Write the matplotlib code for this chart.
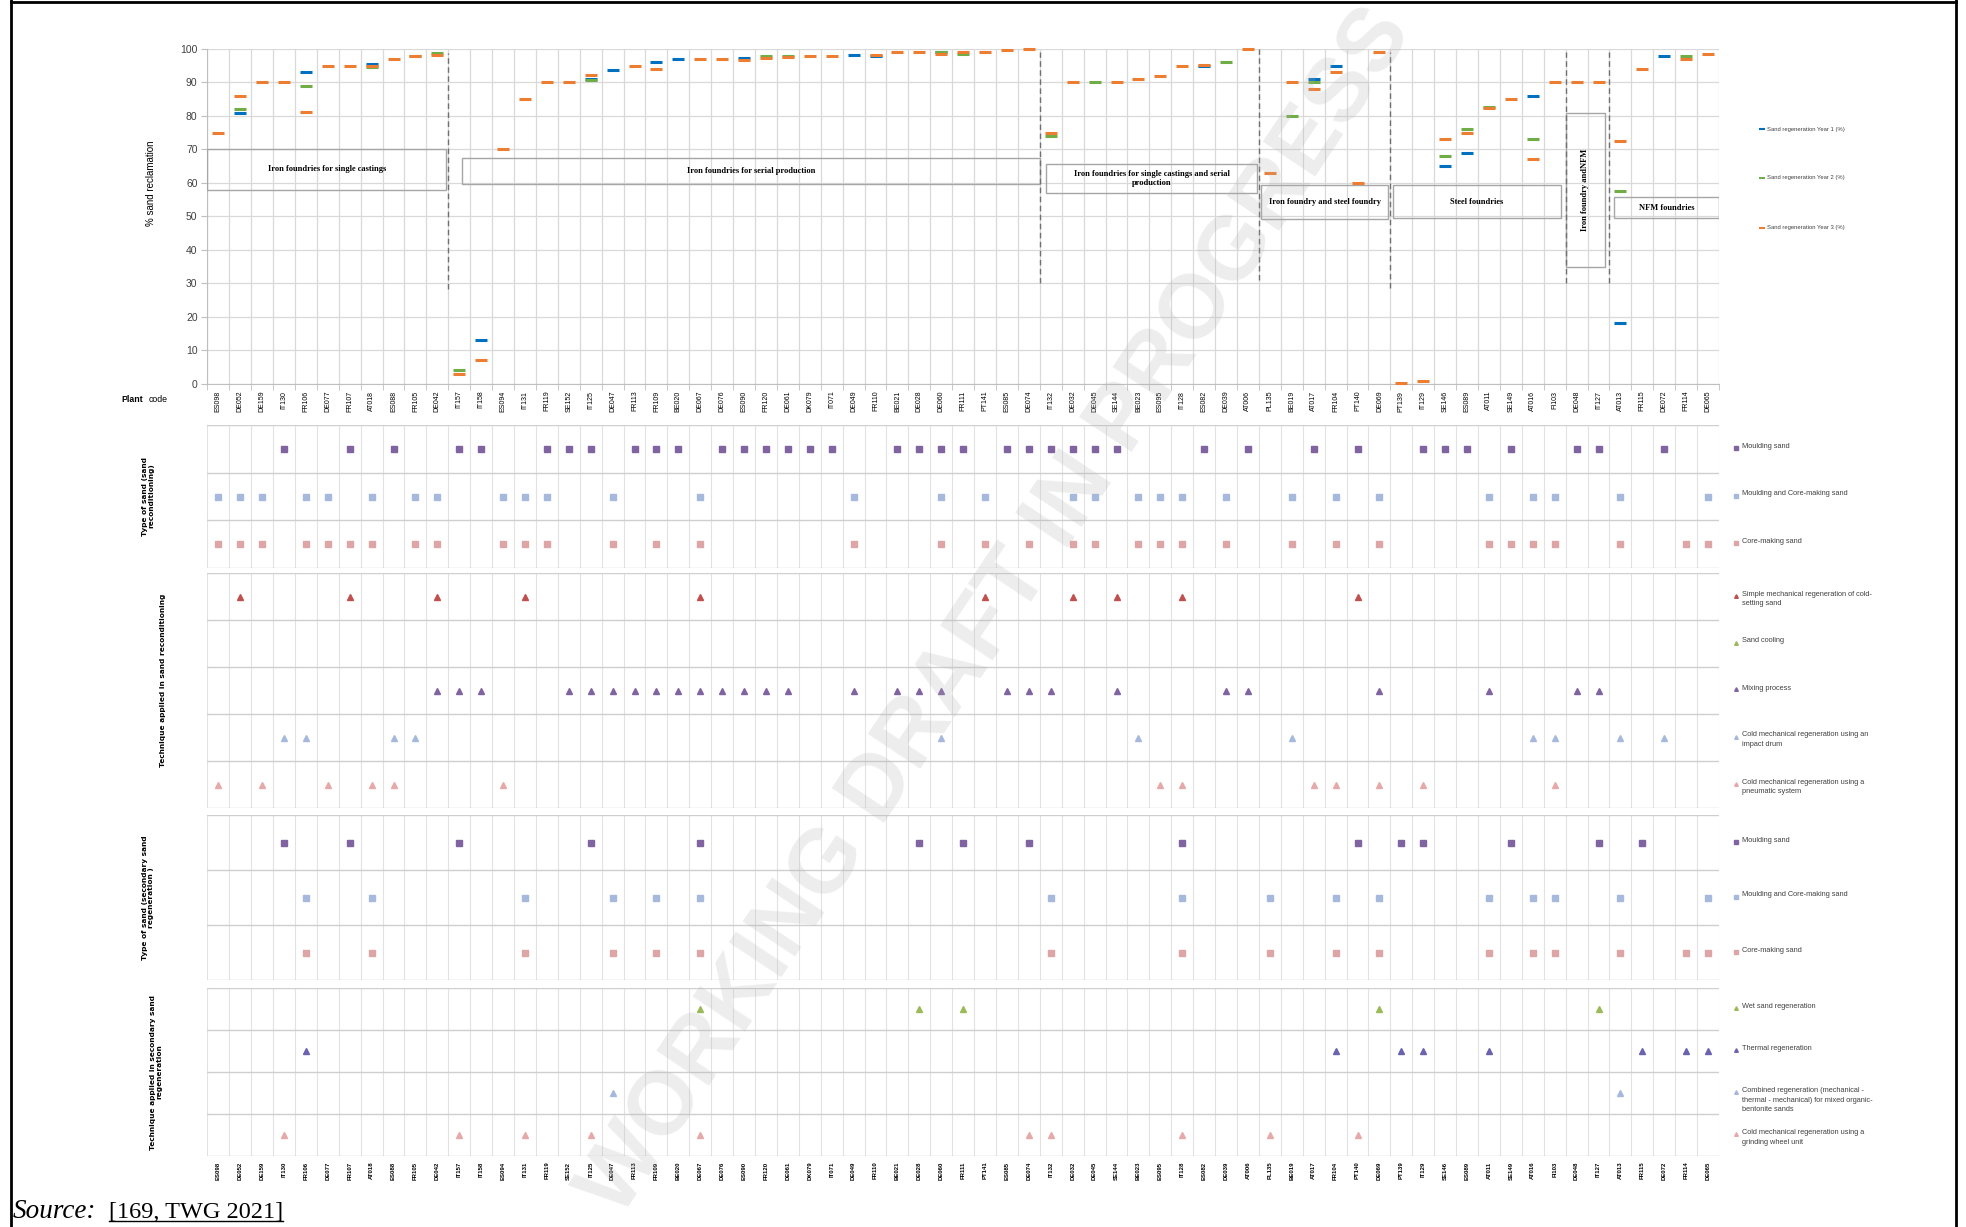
import numpy as np
import matplotlib
matplotlib.use('Agg')
import matplotlib.pyplot as plt
from matplotlib.lines import Line2D
from matplotlib.patches import Rectangle

nan = np.nan

plants = ['ES098', 'DE052', 'DE159', 'IT130', 'FR106', 'DE077', 'FR107', 'AT018', 'ES088', 'FR105',
          'DE042', 'IT157', 'IT158', 'ES094', 'IT131', 'FR119', 'SE152', 'IT125', 'DE047', 'FR113',
          'FR109', 'BE020', 'DE067', 'DE076', 'ES090', 'FR120', 'DE061', 'DK079', 'IT071', 'DE049',
          'FR110', 'BE021', 'DE028', 'DE060', 'FR111', 'PT141', 'ES085', 'DE074', 'IT132', 'DE032',
          'DE045', 'SE144', 'BE023', 'ES095', 'IT128', 'ES082', 'DE039', 'AT006', 'PL135', 'BE019',
          'AT017', 'FR104', 'PT140', 'DE069', 'PT139', 'IT129', 'SE146', 'ES089', 'AT011', 'SE149',
          'AT016', 'FI103', 'DE048', 'IT127', 'AT013', 'FR115', 'DE072', 'FR114', 'DE065']

# % sand reclamation
year1 = [nan, 81, nan, nan, 93, nan, nan, 95.5, nan, nan,
         nan, nan, 13, nan, nan, nan, nan, 91.1, 93.6, nan,
         96, 97, nan, nan, 97.3, nan, nan, nan, nan, 98.2,
         98, nan, nan, 99, nan, nan, nan, nan, nan, nan,
         nan, nan, nan, nan, nan, 95, nan, nan, nan, nan,
         91, 95, nan, nan, nan, nan, 65, 69, nan, nan,
         86, nan, nan, nan, 18, nan, 98, nan, nan]
year2 = [nan, 82, nan, nan, 89, nan, nan, 94.7, nan, 98,
         98.7, 4, nan, nan, nan, nan, nan, 90.8, nan, nan,
         nan, nan, nan, nan, nan, 97.8, 98, nan, nan, nan,
         nan, nan, nan, 99, 98.5, nan, nan, nan, 74, nan,
         90, nan, nan, nan, nan, nan, 96, nan, nan, 80,
         90, nan, nan, nan, nan, nan, 68, 76, 82.5, nan,
         73, nan, nan, nan, 57.7, nan, nan, 98, nan]
year3 = [75, 86, 90, 90, 81.3, 95, 95, 95, 97, 97.8,
         98.1, 3, 7, 70, 85, 90, 90, 92.3, nan, 95,
         94, nan, 97, 97, 96.7, 97.4, 97.6, 98, 98, nan,
         98.3, 99, 99, 98.5, 99, 99, 99.7, 100, 75, 90,
         nan, 90, 91, 92, 95, 95.3, nan, 100, 63, 90,
         88, 93, 60, 99, 0.2, 0.9, 73, 75, 82.2, 85,
         67, 90, 90, 90, 72.6, 94, nan, 97, 98.5]

group_names = ['Iron foundries for single castings', 'Iron foundries for serial production',
               'Iron foundries for single castings and serial\nproduction',
               'Iron foundry and steel foundry', 'Steel foundries', 'Iron foundry andNFM',
               'NFM foundries']

# type of sand (sand reconditioning)
rec_moulding = ['IT130', 'FR107', 'ES088', 'IT157', 'IT158', 'FR119', 'SE152', 'IT125', 'FR113',
                'FR109', 'BE020', 'DE076', 'ES090', 'FR120', 'DE061', 'DK079', 'IT071', 'BE021',
                'DE028', 'DE060', 'FR111', 'ES085', 'DE074', 'IT132', 'DE032', 'DE045', 'SE144',
                'ES082', 'AT006', 'AT017', 'PT140', 'IT129', 'SE146', 'ES089', 'SE149', 'DE048',
                'IT127', 'DE072']
rec_mould_core = ['ES098', 'DE052', 'DE159', 'FR106', 'DE077', 'AT018', 'FR105', 'DE042', 'ES094',
                  'IT131', 'FR119', 'DE047', 'DE067', 'DE049', 'DE060', 'PT141', 'DE032', 'DE045',
                  'BE023', 'ES095', 'IT128', 'DE039', 'BE019', 'FR104', 'DE069', 'AT011', 'AT016',
                  'FI103', 'AT013', 'DE065']
rec_core = ['ES098', 'DE052', 'DE159', 'FR106', 'DE077', 'FR107', 'AT018', 'FR105', 'DE042', 'ES094',
            'IT131', 'FR119', 'DE047', 'FR109', 'DE067', 'DE049', 'DE060', 'PT141', 'DE074', 'DE032',
            'DE045', 'BE023', 'ES095', 'IT128', 'DE039', 'BE019', 'FR104', 'DE069', 'AT011', 'SE149',
            'AT016', 'FI103', 'AT013', 'FR114', 'DE065']

# technique applied in sand reconditioning
tech_simple = ['DE052', 'FR107', 'DE042', 'IT131', 'DE067', 'PT141', 'DE032', 'SE144', 'IT128', 'PT140']
tech_cooling = []
tech_mixing = ['DE042', 'IT157', 'IT158', 'SE152', 'IT125', 'DE047', 'FR113', 'FR109', 'BE020', 'DE067',
               'DE076', 'ES090', 'FR120', 'DE061', 'DE049', 'BE021', 'DE028', 'DE060', 'ES085', 'DE074',
               'IT132', 'SE144', 'DE039', 'AT006', 'DE069', 'AT011', 'DE048', 'IT127']
tech_impact = ['IT130', 'FR106', 'ES088', 'FR105', 'DE060', 'BE023', 'BE019', 'AT016', 'FI103', 'AT013',
               'DE072']
tech_pneumatic = ['ES098', 'DE159', 'DE077', 'AT018', 'ES088', 'ES094', 'ES095', 'IT128', 'AT017',
                  'FR104', 'DE069', 'IT129', 'FI103']

# type of sand (secondary sand regeneration)
sec_moulding = ['IT130', 'FR107', 'IT157', 'IT125', 'DE067', 'DE028', 'FR111', 'DE074', 'IT128', 'PT140',
                'PT139', 'IT129', 'SE149', 'IT127', 'FR115']
sec_mould_core = ['FR106', 'AT018', 'IT131', 'DE047', 'FR109', 'DE067', 'IT132', 'IT128', 'PL135',
                  'FR104', 'DE069', 'AT011', 'AT016', 'FI103', 'AT013', 'DE065']
sec_core = ['FR106', 'AT018', 'IT131', 'DE047', 'FR109', 'DE067', 'IT132', 'IT128', 'PL135', 'FR104',
            'DE069', 'AT011', 'AT016', 'FI103', 'AT013', 'FR114', 'DE065']

# technique applied in secondary sand regeneration
sec_wet = ['DE067', 'DE028', 'FR111', 'DE069', 'IT127']
sec_thermal = ['FR106', 'FR104', 'PT139', 'IT129', 'AT011', 'FR115', 'FR114', 'DE065']
sec_combined = ['DE047', 'AT013']
sec_grinding = ['IT130', 'IT157', 'IT131', 'IT125', 'DE067', 'DE074', 'IT132', 'IT128', 'PL135', 'PT140']

W, H = 1966, 1227
XL, XR = 207.3, 1719
fig = plt.figure(figsize=(W / 100, H / 100), dpi=100)
plt.rcParams['font.family'] = ['Liberation Sans', 'DejaVu Sans']
GRID = '#d9d9d9'
n = len(plants)
x = np.arange(n)


def add_ax(l, t, r, b):
    return fig.add_axes([l / W, 1 - b / H, (r - l) / W, (b - t) / H])


def fig_marker(px, py, marker, color, ms, mew=1):
    fig.add_artist(Line2D([px / W], [1 - py / H], marker=marker, color=color, ms=ms, mew=mew,
                          ls='', transform=fig.transFigure))


def fig_text(px, py, s, **kw):
    return fig.text(px / W, 1 - py / H, s, **kw)


# ---- top chart ----
ax = add_ax(XL, 48.9, XR, 383.7)
cols = ['#0070C0', '#70AD47', '#ED7D31']
for ser, c in zip([year1, year2, year3], cols):
    ax.plot(x, ser, ls='', marker='_', ms=8.5, mew=2.2, color=c, clip_on=False, zorder=4)
ax.set_xlim(-0.5, n - 0.5)
ax.set_ylim(0, 100)
ax.set_yticks(range(0, 101, 10))
ax.set_xticks(x)
ax.set_xticklabels(plants, rotation=90, fontsize=5)
ax.set_xticks(np.arange(-0.5, n), minor=True)
ax.grid(axis='y', color=GRID, lw=0.9)
ax.grid(axis='x', which='minor', color=GRID, lw=0.9)
ax.tick_params(axis='x', which='major', length=0, pad=5)
ax.tick_params(axis='x', which='minor', length=4, color='#bfbfbf')
ax.tick_params(axis='y', length=4, color='#bfbfbf', labelsize=7.5, pad=3, labelcolor='#404040')
for s in ['top', 'right']:
    ax.spines[s].set_visible(False)
for s in ['left', 'bottom']:
    ax.spines[s].set_color('#bfbfbf')

boxes = [(-0.5, 10.4, 58, 70), (11.13, 37.5, 59.5, 67.5), (37.8, 47.4, 57, 65.5),
         (47.6, 53.4, 49.1, 59.2), (53.6, 61.3, 49.4, 59.2), (61.5, 63.3, 34.8, 81),
         (63.7, 68.5, 49.4, 55.7)]
for name, (x0, x1, y0, y1) in zip(group_names, boxes):
    ax.add_patch(Rectangle((x0, y0), x1 - x0, y1 - y0, fill=False, ec='#a6a6a6', lw=1, zorder=3))
    rot = 90 if (x1 - x0) < 3 else 0
    ax.text((x0 + x1) / 2, (y0 + y1) / 2, name, ha='center', va='center', rotation=rot,
            family='Liberation Serif', fontweight='bold', fontsize=6, multialignment='center', zorder=5)

seps = [(10.5, 28.2, 98.8), (37.5, 30, 99), (47.5, 31, 100), (53.5, 28.7, 99),
        (61.5, 30, 99), (63.5, 30, 99)]
for sx, ya, yb in seps:
    ax.plot([sx, sx], [ya, yb], ls=(0, (4, 2.5)), color='#707070', lw=1, zorder=3)

fig_text(151, 183, '% sand reclamation', rotation=90, ha='center', va='center', fontsize=7)
fig_text(132, 400, 'Plant', ha='center', va='center', fontsize=6.3, fontweight='bold')
fig_text(158, 400, 'code', ha='center', va='center', fontsize=6.3)

for k, (lab, c) in enumerate(zip(['Sand regeneration Year 1 (%)', 'Sand regeneration Year 2 (%)',
                                   'Sand regeneration Year 3 (%)'], cols)):
    py = [129, 178, 228][k]
    fig_marker(1762, py, '_', c, 4, 1.5)
    fig_text(1767, py, lab, va='center', fontsize=4.2, color='#404040')


# ---- category panels ----
def row_panel(top, bottom, rows, ylabel, ylx, yly, labels=False):
    a = add_ax(XL, top, XR, bottom)
    nr = len(rows)
    rh = (bottom - top) / nr
    for k, (lab, codes, color, marker, ms) in enumerate(rows):
        xs = [plants.index(c) for c in codes]
        a.plot(xs, [nr - 0.5 - k] * len(xs), ls='', marker=marker, ms=ms, color=color, mec=color)
        pyc = top + (k + 0.5) * rh
        fig_marker(1736, pyc - 1, marker, color, 2.6)
        fig_text(1742, pyc - 6, lab, va='top', fontsize=5.3, color='#404040', linespacing=1.5)
    a.set_xlim(-0.5, n - 0.5)
    a.set_ylim(0, nr)
    a.set_yticks(range(nr + 1))
    a.set_yticklabels([])
    a.set_xticks(np.arange(-0.5, n), minor=True)
    a.set_xticks(x)
    if labels:
        a.set_xticklabels(plants, rotation=90, fontsize=4.3, fontweight='bold')
    else:
        a.set_xticklabels([])
    a.tick_params(axis='both', which='both', length=0, pad=4)
    a.grid(axis='y', color='#cfcfcf', lw=1)
    a.grid(axis='x', which='minor', color='#e2e2e2', lw=0.8)
    for s in a.spines.values():
        s.set_visible(False)
    fig_text(ylx, yly, ylabel, rotation=90, ha='center', va='center', fontsize=5.3,
             fontweight='bold', multialignment='center', family=['DejaVu Sans'])
    return a


MS = 4.2
TR = 4.6
row_panel(425, 568, [
    ('Moulding sand', rec_moulding, '#8064A2', 's', MS),
    ('Moulding and Core-making sand', rec_mould_core, '#A6B9DC', 's', MS),
    ('Core-making sand', rec_core, '#DDA5A5', 's', MS)],
    'Type of sand (sand\nreconditioning)', 148, 496)

row_panel(573, 808, [
    ('Simple mechanical regeneration of cold-\nsetting sand', tech_simple, '#C0504D', '^', TR),
    ('Sand cooling', tech_cooling, '#9BBB59', '^', TR),
    ('Mixing process', tech_mixing, '#8064A2', '^', TR),
    ('Cold mechanical regeneration using an\nimpact drum', tech_impact, '#A6B9DC', '^', TR),
    ('Cold mechanical regeneration using a\npneumatic system', tech_pneumatic, '#E6A9A9', '^', TR)],
    'Technique applied in sand reconditioning', 163, 680)

row_panel(815, 980, [
    ('Moulding sand', sec_moulding, '#8064A2', 's', MS),
    ('Moulding and Core-making sand', sec_mould_core, '#A6B9DC', 's', MS),
    ('Core-making sand', sec_core, '#DDA5A5', 's', MS)],
    'Type of sand (secondary sand\nregeneration )', 148, 898)

row_panel(988, 1156, [
    ('Wet sand regeneration', sec_wet, '#9BBB59', '^', TR),
    ('Thermal regeneration', sec_thermal, '#6B62B0', '^', TR),
    ('Combined regeneration (mechanical -\nthermal - mechanical) for mixed organic-\nbentonite sands',
     sec_combined, '#A6B9DC', '^', TR),
    ('Cold mechanical regeneration using a\ngrinding wheel unit', sec_grinding, '#E6A9A9', '^', TR)],
    'Technique applied in secondary sand\nregeneration', 156, 1072, labels=True)

# frame
for xs_, ys_ in [([11, 11], [0, H]), ([1956, 1956], [0, H]), ([11, 1956], [1.5, 1.5])]:
    fig.add_artist(Line2D([v / W for v in xs_], [1 - v / H for v in ys_], color='black', lw=2,
                          transform=fig.transFigure))

# watermark
fig_text(997, 612, 'WORKING DRAFT IN PROGRESS', rotation=56.3, rotation_mode='anchor', fontsize=65,
         fontweight='bold', color='#b0b0b0', alpha=0.22, ha='center', va='center', zorder=20)

# source
fig_text(13, 1212, 'Source:', style='italic', family='Liberation Serif', fontsize=19.5, va='center')
ref = fig_text(109, 1212, '[169, TWG 2021]', family='Liberation Serif', fontsize=17.5, va='center')
fig.canvas.draw()
bb = ref.get_window_extent()
fig.add_artist(Line2D([bb.x0 / W, bb.x1 / W], [(bb.y0 + 2) / H, (bb.y0 + 2) / H], color='black',
                      lw=1, transform=fig.transFigure))

fig.savefig('out.png', dpi=100)
